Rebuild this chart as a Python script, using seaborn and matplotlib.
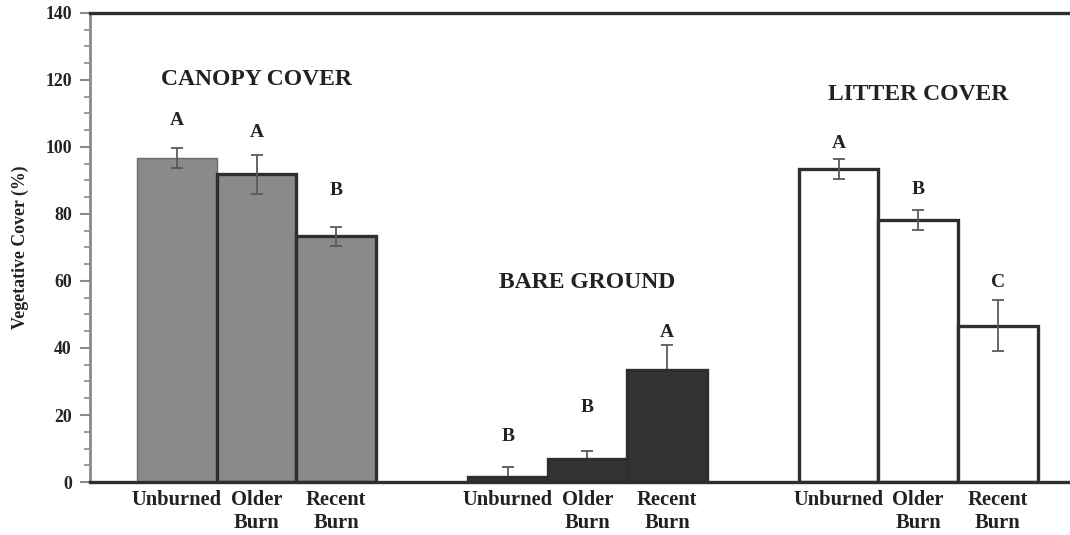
import numpy as np
import pandas as pd
import matplotlib
matplotlib.use("Agg")
import matplotlib.pyplot as plt
from matplotlib.ticker import MultipleLocator
import seaborn as sns

# Vegetative cover (%) by burn treatment, means with error bars
treatments = ["Unburned", "Older Burn", "Recent Burn"]
tick_labels = ["Unburned", "Older\nBurn", "Recent\nBurn"]
groups = ["CANOPY COVER", "BARE GROUND", "LITTER COVER"]

canopy_mean = [96.7, 91.8, 73.3]
canopy_err = [3.0, 5.8, 2.9]
bare_mean = [1.4, 6.8, 33.4]
bare_err = [3.0, 2.6, 7.4]
litter_mean = [93.3, 78.2, 46.7]
litter_err = [3.0, 3.0, 7.7]

canopy_letters = ["A", "A", "B"]
bare_letters = ["B", "B", "A"]
litter_letters = ["A", "B", "C"]

sns.set_style("white")
plt.rcParams["font.family"] = ["Liberation Serif", "DejaVu Serif"]
plt.rcParams["font.weight"] = "bold"

fig = plt.figure(figsize=(10.7, 5.35), dpi=100)
ax = fig.add_axes([0.084, 0.099, 0.92, 0.877])

means = [canopy_mean, bare_mean, litter_mean]
errs = [canopy_err, bare_err, litter_err]
letters = [canopy_letters, bare_letters, litter_letters]

# layout: fill colours, group title heights, letter clearance above error caps
fills = ["#8a8a8a", "#333333", "#ffffff"]
title_heights = [120, 59.5, 115.5]
letter_gaps = [[8.1, 6.8, 10.7], [9.3, 12.9, 3.9], [4.7, 6.0, 5.0]]
group_gap = 4.155

all_pos = []
for g, name in enumerate(groups):
    pos = g * group_gap + np.arange(len(treatments))
    all_pos.extend(pos)
    df = pd.DataFrame({"pos": pos, "value": means[g]})
    n_before = len(ax.patches)
    sns.barplot(data=df, x="pos", y="value", native_scale=True, width=1.0,
                color=fills[g], saturation=1, edgecolor="#2e2e2e", linewidth=2.4,
                errorbar=None, ax=ax, zorder=2)
    if g == 0:
        # the first canopy bar carries only a thin grey outline
        first = ax.patches[n_before]
        first.set_edgecolor("#6a6a6a")
        first.set_linewidth(1.0)
    ax.errorbar(pos, means[g], yerr=errs[g], fmt="none", ecolor="#5a5a5a",
                elinewidth=1.3, capsize=4, capthick=1.3,
                zorder=1 if g == 1 else 3)
    for x, m, e, lab, gap in zip(pos, means[g], errs[g], letters[g], letter_gaps[g]):
        ax.text(x, m + e + gap, lab, ha="center", va="center",
                fontsize=14, fontweight="bold", color="#222222")
    ax.text(pos[1], title_heights[g], name, ha="center", va="center",
            fontsize=17, fontweight="bold", color="#222222")

ax.set_xlim(-1.093, 11.27)
ax.set_ylim(0, 140)
ax.set_xticks(all_pos)
ax.set_xticklabels(tick_labels * 3, fontsize=14.8, fontweight="bold", color="#222222")
ax.tick_params(axis="x", length=0, pad=6)

ax.yaxis.set_major_locator(MultipleLocator(20))
ax.yaxis.set_minor_locator(MultipleLocator(5))
ax.tick_params(axis="y", which="major", direction="out", length=7, width=1.5,
               color="#8a8a8a", labelsize=12.8, pad=6, left=True)
ax.tick_params(axis="y", which="minor", direction="out", length=4, width=1.2,
               color="#8a8a8a", left=True)
for lab in ax.get_yticklabels():
    lab.set_fontweight("bold")
    lab.set_color("#222222")

ax.set_xlabel("")
ax.set_ylabel("Vegetative Cover (%)", fontsize=12.8, fontweight="bold",
              color="#222222", labelpad=12)

ax.spines["left"].set_color("#8a8a8a")
ax.spines["left"].set_linewidth(2)
for side in ("top", "bottom"):
    ax.spines[side].set_color("#2e2e2e")
    ax.spines[side].set_linewidth(2.4)
ax.spines["right"].set_visible(False)

fig.savefig("out.png", dpi=100)
